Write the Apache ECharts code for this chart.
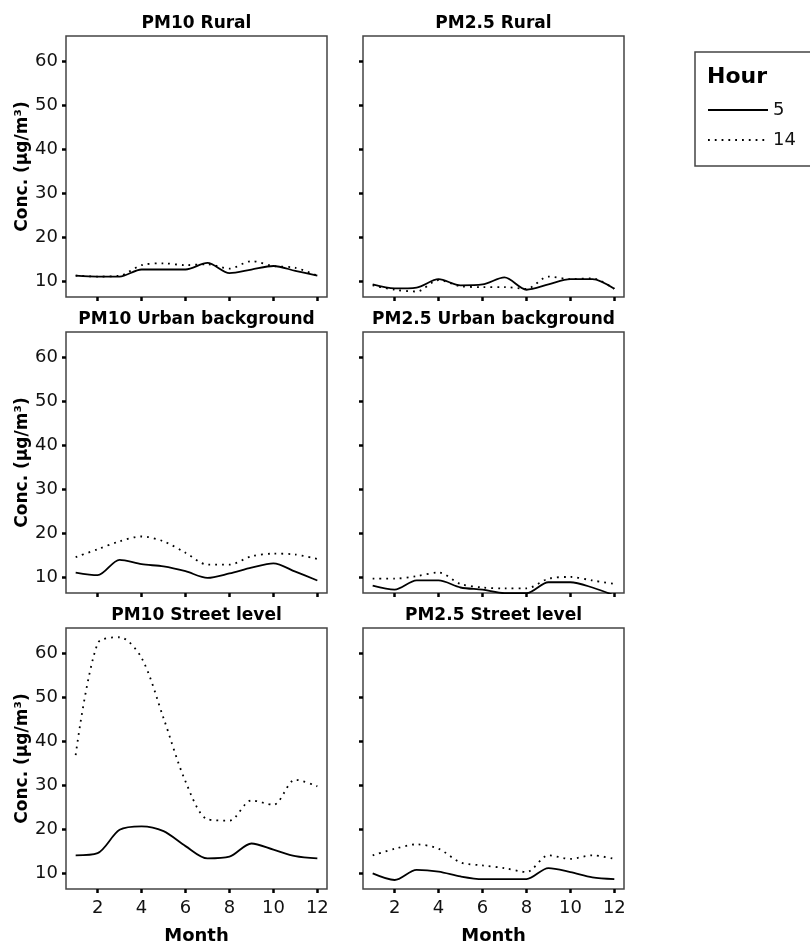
<!DOCTYPE html>
<html>
<head>
<meta charset="utf-8">
<script src="https://cdn.jsdelivr.net/npm/echarts@6/dist/echarts.min.js"></script>
<style>
  html, body { margin: 0; padding: 0; background: #fff; }
  #main { width: 810px; height: 947px; }
</style>
</head>
<body>
<div id="main"></div>
<script>
var months = [1, 2, 3, 4, 5, 6, 7, 8, 9, 10, 11, 12];
var yTicks = [10, 20, 30, 40, 50, 60];
var xTicks = [2, 4, 6, 8, 10, 12];
var hours = ['5', '14'];
var titles = ['PM10 Rural', 'PM2.5 Rural', 'PM10 Urban background',
              'PM2.5 Urban background', 'PM10 Street level', 'PM2.5 Street level'];

// hour 5 = solid, hour 14 = dotted
var pm10Rural5   = [11.2, 11.0, 11.0, 12.6, 12.6, 12.6, 14.1, 11.8, 12.6, 13.4, 12.3, 11.2];
var pm10Rural14  = [11.2, 11.0, 11.2, 13.6, 14.0, 13.6, 13.8, 12.8, 14.5, 13.4, 13.0, 11.2];
var pm25Rural5   = [9.2, 8.3, 8.5, 10.4, 9.0, 9.2, 10.8, 8.0, 9.2, 10.4, 10.4, 8.2];
var pm25Rural14  = [9.0, 8.0, 7.6, 10.2, 8.8, 8.6, 8.6, 8.2, 11.0, 10.4, 10.6, 8.2];
var pm10Urban5   = [11.0, 10.4, 13.9, 12.9, 12.4, 11.3, 9.8, 10.8, 12.1, 13.1, 11.2, 9.2];
var pm10Urban14  = [14.5, 16.3, 18.1, 19.2, 18.1, 15.5, 12.8, 12.8, 14.7, 15.3, 15.1, 14.1];
var pm25Urban5   = [8.0, 7.1, 9.2, 9.2, 7.6, 7.1, 6.3, 6.3, 8.8, 8.8, 7.6, 5.8];
var pm25Urban14  = [9.6, 9.6, 10.2, 11.0, 8.4, 7.6, 7.4, 7.4, 9.6, 10.0, 9.2, 8.4];
var pm10Street5  = [14.0, 14.5, 19.8, 20.6, 19.5, 16.1, 13.3, 13.7, 16.7, 15.3, 13.8, 13.3];
var pm10Street14 = [36.8, 62.2, 63.6, 58.9, 45.2, 30.8, 22.2, 21.9, 26.5, 25.5, 31.2, 29.7];
var pm25Street5  = [9.9, 8.4, 10.7, 10.3, 9.2, 8.6, 8.6, 8.6, 11.1, 10.2, 9.0, 8.6];
var pm25Street14 = [14.0, 15.5, 16.5, 15.5, 12.4, 11.7, 11.1, 10.2, 14.0, 13.2, 14.0, 13.2];

var panelData = [
    [pm10Rural5, pm10Rural14], [pm25Rural5, pm25Rural14],
    [pm10Urban5, pm10Urban14], [pm25Urban5, pm25Urban14],
    [pm10Street5, pm10Street14], [pm25Street5, pm25Street14]
];

var colLeft = [66, 363], rowTop = [36, 332, 628];
var boxW = 261, boxH = 261;

var grids = [], xAxes = [], yAxes = [], titleList = [], series = [];

panelData.forEach(function(pair, i) {
    var col = i % 2, row = Math.floor(i / 2);
    var isBottom = row === 2, isLeft = col === 0;

    grids.push({
        left: colLeft[col], top: rowTop[row], width: boxW, height: boxH,
        show: true, borderColor: '#444', borderWidth: 1.5, backgroundColor: '#fff'
    });

    titleList.push({
        text: titles[i],
        left: colLeft[col] + boxW / 2,
        top: rowTop[row] - 21,
        textAlign: 'center',
        padding: 0,
        textStyle: { fontFamily: 'DejaVu Sans', fontSize: 17, fontWeight: 'bold', color: '#000' }
    });

    xAxes.push({
        type: 'value', gridIndex: i, min: 0.56, max: 12.44,
        axisLine: { show: false },
        splitLine: { show: false },
        axisTick: { show: true, customValues: xTicks, length: 4, lineStyle: { color: '#000', width: 2.5 } },
        axisLabel: { show: isBottom, customValues: xTicks, margin: 10, fontSize: 18, color: '#111',
                     fontFamily: 'DejaVu Sans' },
        name: isBottom ? 'Month' : '',
        nameLocation: 'middle', nameGap: 38,
        nameTextStyle: { fontFamily: 'DejaVu Sans', fontSize: 18, fontWeight: 'bold', color: '#000' }
    });

    yAxes.push({
        type: 'value', gridIndex: i, min: 6.35, max: 65.7,
        axisLine: { show: false },
        splitLine: { show: false },
        axisTick: { show: true, customValues: yTicks, length: 4, lineStyle: { color: '#000', width: 2.5 } },
        axisLabel: { show: isLeft, customValues: yTicks, margin: 8, fontSize: 18, color: '#111',
                     fontFamily: 'DejaVu Sans' },
        name: isLeft ? 'Conc. (\u03bcg/m\u00b3)' : '',
        nameLocation: 'middle', nameGap: 35, nameRotate: 90,
        nameTextStyle: { fontFamily: 'DejaVu Sans', fontSize: 17, fontWeight: 'bold', color: '#000' }
    });

    pair.forEach(function(vals, h) {
        series.push({
            name: hours[h],
            type: 'line',
            xAxisIndex: i, yAxisIndex: i,
            data: months.map(function(m, k) { return [m, vals[k]]; }),
            symbol: 'none',
            smooth: 0.3,
            silent: true,
            z: h === 0 ? 3 : 2,
            lineStyle: h === 0
                ? { color: '#000', width: 1.8, type: 'solid' }
                : { color: '#000', width: 1.8, type: [1.8, 5] },
            itemStyle: { color: '#000' }
        });
    });
});

// legend title
titleList.push({
    text: 'Hour', left: 707, top: 66, padding: 0,
    textStyle: { fontFamily: 'DejaVu Sans', fontSize: 22, fontWeight: 'bold', color: '#000' }
});

var myChart = echarts.init(document.getElementById('main'));
var option = {
    animation: false,
    backgroundColor: '#fff',
    textStyle: { fontFamily: 'DejaVu Sans' },
    title: titleList,
    grid: grids,
    xAxis: xAxes,
    yAxis: yAxes,
    legend: {
        data: hours,
        orient: 'vertical',
        left: 695, top: 52,
        padding: [48, 30, 16, 12],
        itemWidth: 60, itemHeight: 20, itemGap: 10,
        borderColor: '#444', borderWidth: 1.5,
        selectedMode: false,
        // hide the circle symbol, keep only the line sample
        itemStyle: { color: 'transparent', borderWidth: 0, opacity: 0 },
        textStyle: { fontFamily: 'DejaVu Sans', fontSize: 18, color: '#111', lineHeight: 20 }
    },
    series: series
};
myChart.setOption(option);
</script>
</body>
</html>
